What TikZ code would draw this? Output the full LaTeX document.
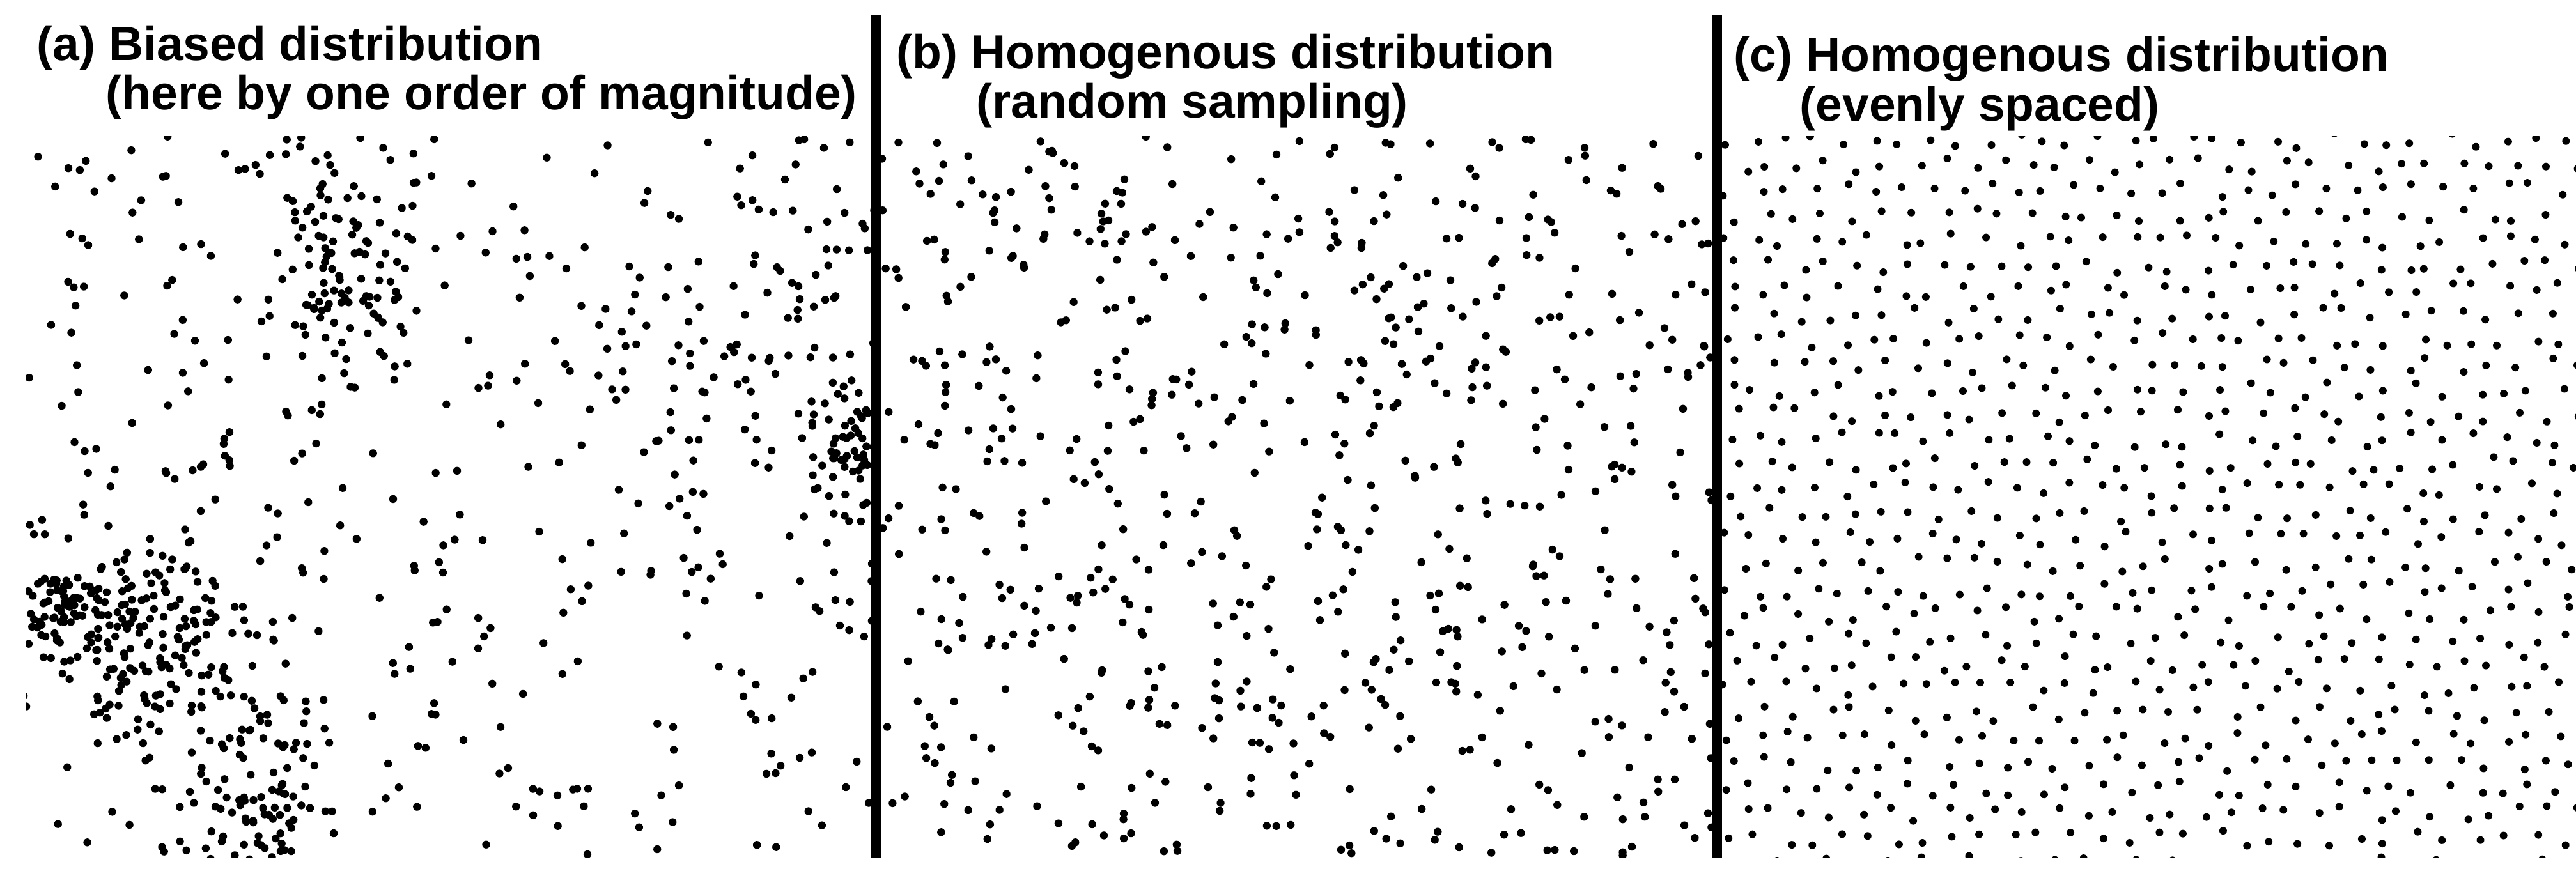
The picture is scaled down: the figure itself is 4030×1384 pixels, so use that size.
\documentclass[tikz,border=0pt]{standalone}
\usepackage{fontspec}
\setmainfont{Liberation Sans}
\begin{document}
\begin{tikzpicture}[x=0.25pt,y=-0.25pt,
  titletext/.style={anchor=base west, inner sep=0pt, font=\fontsize{18.75}{19}\selectfont\bfseries},
  divider/.style={line width=3.75pt, draw=black},
  dotfill/.style={fill=black}]
\useasboundingbox[fill=white] (0,0) rectangle (4030,1384);
\pgfmathsetseed{4242}
% ---------- panel (a): biased ----------
\begin{scope}
\clip (40,213) rectangle (1370,1342);
\foreach \i in {1,...,440}{
  \pgfmathsetmacro\px{45+1325*rnd}
  \pgfmathsetmacro\py{213+1130*rnd}
  \fill[dotfill] (\px,\py) circle[radius=1.55pt];
}
\foreach \cx/\cy/\sx/\sy/\n in {95/955/35/24/45, 200/965/100/60/150, 290/1090/70/45/35, 400/1245/55/60/80, 540/430/60/90/110, 1335/690/30/55/55, 1150/600/150/150/70}{
  \foreach \j in {1,...,\n}{
    \pgfmathsetmacro\px{\cx+\sx*(rand+rand+rand)}
    \pgfmathsetmacro\py{\cy+\sy*(rand+rand+rand)}
    \fill[dotfill] (\px,\py) circle[radius=1.55pt];
  }
}
\end{scope}
% ---------- panel (b): random sampling ----------
\begin{scope}
\clip (1370,213) rectangle (2686,1342);
\foreach \i in {1,...,700}{
  \pgfmathsetmacro\px{1380+1300*rnd}
  \pgfmathsetmacro\py{213+1130*rnd}
  \fill[dotfill] (\px,\py) circle[radius=1.55pt];
}
\end{scope}
% ---------- panel (c): evenly spaced ----------
\begin{scope}
\clip (2686,213) rectangle (4030,1342);
\foreach \r in {0,...,29}{
  \foreach \c in {0,...,30}{
    \pgfmathsetmacro\px{2702+45*\c+22.5*mod(\r,2)+13*rand}
    \pgfmathsetmacro\py{220+39*\r+12*rand}
    \fill[dotfill] (\px,\py) circle[radius=1.5pt];
  }
}
\end{scope}
% ---------- dividers ----------
\coordinate (l1t) at (1370,23);
\coordinate (l1b) at (1370,1342);
\coordinate (l2t) at (2686,23);
\coordinate (l2b) at (2686,1342);
\draw[divider] (l1t) -- (l1b);
\draw[divider] (l2t) -- (l2b);
% ---------- titles ----------
\node[titletext] (ta1) at (57,94) {(a) Biased distribution};
\node[titletext] (ta2) at (165,171) {(here by one order of magnitude)};
\node[titletext] (tb1) at (1402,107) {(b) Homogenous distribution};
\node[titletext] (tb2) at (1527,184) {(random sampling)};
\node[titletext] (tc1) at (2712,111) {(c) Homogenous distribution};
\node[titletext] (tc2) at (2815,189) {(evenly spaced)};
\end{tikzpicture}
\end{document}
